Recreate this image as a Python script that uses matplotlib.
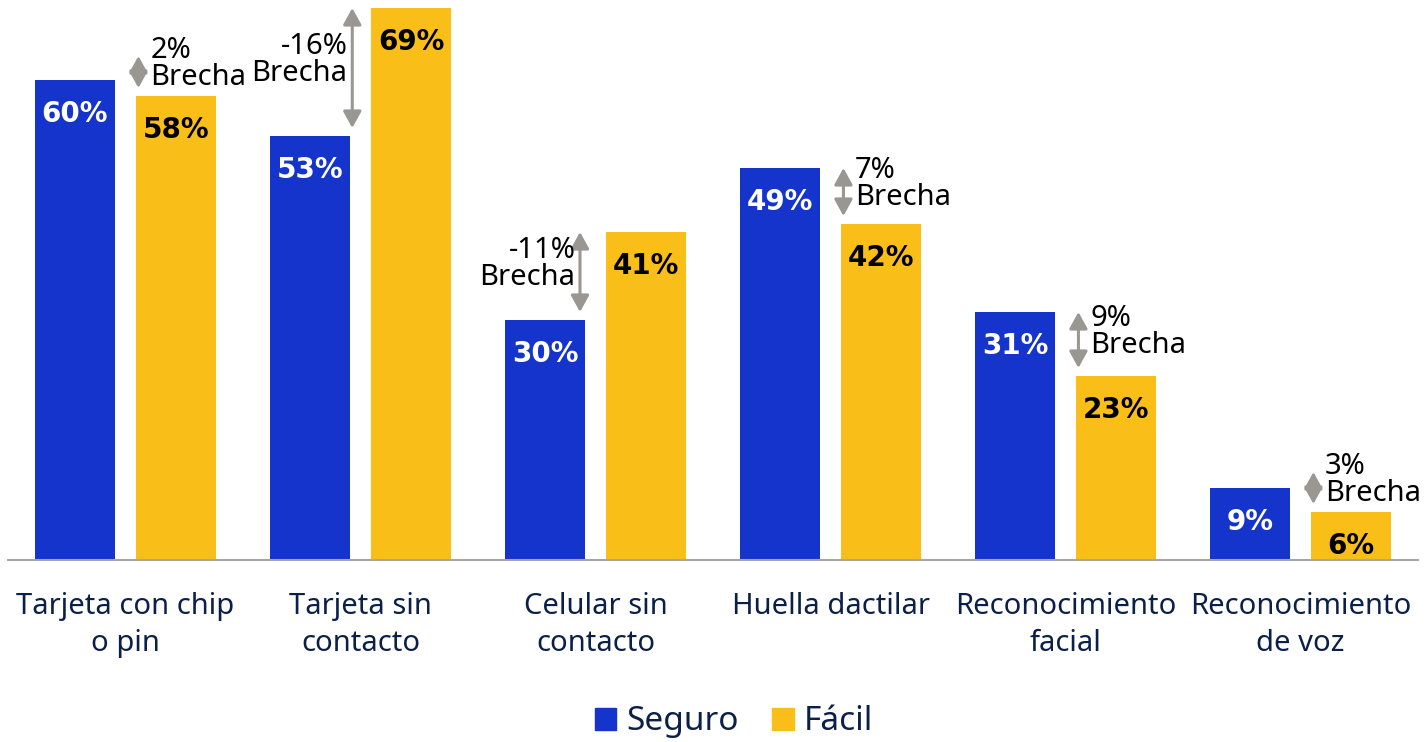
import matplotlib
matplotlib.use('Agg')
import matplotlib.pyplot as plt
from matplotlib.patches import Patch
import numpy as np

plt.rcParams['font.family'] = ['Noto Sans', 'DejaVu Sans']

# data
categorias = ["Tarjeta con chip\no pin", "Tarjeta sin\ncontacto", "Celular sin\ncontacto",
              "Huella dactilar", "Reconocimiento\nfacial", "Reconocimiento\nde voz"]
seguro = [60, 53, 30, 49, 31, 9]
facil = [58, 69, 41, 42, 23, 6]
brechas = [2, -16, -11, 7, 9, 3]
series = ["Seguro", "Fácil"]

azul = "#1434CB"
amarillo = "#F9BE18"
navy = "#0B2048"
gris = "#9A9792"

fig = plt.figure(figsize=(14.27, 7.42), dpi=100)
ax = fig.add_axes([8 / 1427, 182 / 742, 1410 / 1427, 560 / 742])

x = np.arange(len(categorias))
off = 0.215
w = 0.34
ax.bar(x - off, seguro, w, color=azul)
ax.bar(x + off, facil, w, color=amarillo)

ax.set_xlim(-0.5, 5.5)
ax.set_ylim(0, 70)

# value labels inside bars
for i in range(len(x)):
    ax.text(x[i] - off, seguro[i] - 4.2, f"{seguro[i]}%", ha='center', va='center',
            color='white', fontsize=20, fontweight='bold', family='DejaVu Sans')
    ax.text(x[i] + off, facil[i] - 4.2, f"{facil[i]}%", ha='center', va='center',
            color='black', fontsize=20, fontweight='bold', family='DejaVu Sans')

# gap arrows ("Brecha")
for i in range(len(x)):
    brecha = brechas[i]
    lo = min(seguro[i], facil[i]) + 1
    hi = max(max(seguro[i], facil[i]), lo + 4)
    if brecha >= 0:
        ax_x = x[i] + 0.055
        tx, ha = ax_x + 0.05, 'left'
    else:
        ax_x = x[i] - 0.035 if i == 1 else x[i] - 0.066
        tx, ha = ax_x - 0.02, 'right'
    ax.annotate("", xy=(ax_x, hi), xytext=(ax_x, lo),
                arrowprops=dict(arrowstyle='<|-|>,head_length=1.0,head_width=0.55',
                                mutation_scale=10, color=gris, lw=2.2,
                                shrinkA=0, shrinkB=0))
    ax.text(tx, (lo + hi) / 2 + 1.0, f"{brecha}%\nBrecha", ha=ha, va='center',
            fontsize=21, color='black', linespacing=0.95)

for s in ['top', 'right', 'left']:
    ax.spines[s].set_visible(False)
ax.spines['bottom'].set_color('#A6A6A6')
ax.spines['bottom'].set_linewidth(1.5)
ax.set_yticks([])
ax.set_xticks(x)
ax.set_xticklabels(categorias, fontsize=21, color=navy, linespacing=1.38)
ax.tick_params(axis='x', length=0, pad=23)

handles = [Patch(color=azul), Patch(color=amarillo)]
fig.legend(handles, series, loc='center', bbox_to_anchor=(734 / 1427, 20 / 742),
           ncol=2, frameon=False, fontsize=24, handlelength=0.65, handleheight=0.65,
           handletextpad=0.3, columnspacing=1.0, labelcolor=navy)

fig.savefig("out.png", dpi=100)
